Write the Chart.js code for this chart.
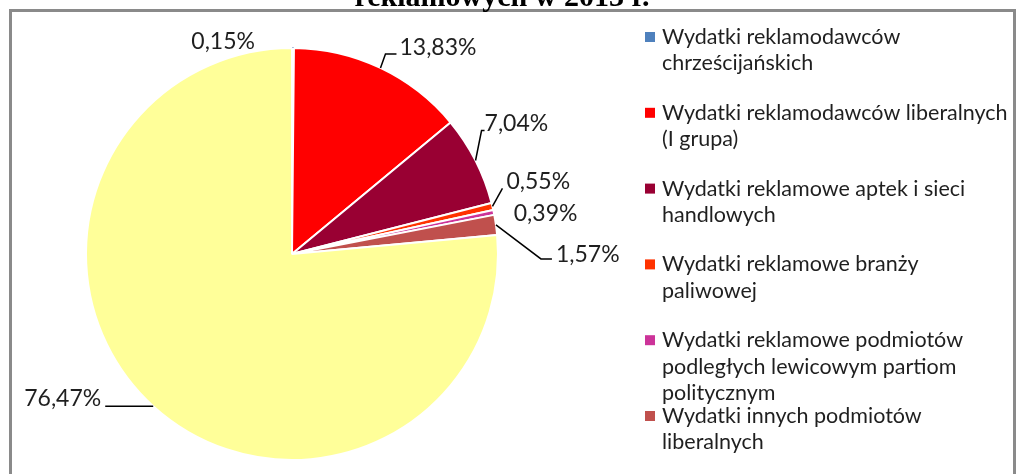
<!DOCTYPE html>
<html lang="pl">
<head>
<meta charset="utf-8">
<title>Wydatki reklamowe 2013</title>
<script src="https://cdn.jsdelivr.net/npm/chart.js@4/dist/chart.umd.min.js"></script>
<style>
  body { margin: 0; background: #fff; }
  #wrap { width: 1016px; height: 474px; position: relative; }
</style>
</head>
<body>
<div id="wrap"><canvas id="pie"></canvas></div>
<script>
const chartTitle = "reklamowych w 2013 r.";

// legend entries, one array of lines per slice (last slice has no legend entry)
const categories = [
  ["Wydatki reklamodawców", "chrześcijańskich"],
  ["Wydatki reklamodawców liberalnych", "(I grupa)"],
  ["Wydatki reklamowe aptek i sieci", "handlowych"],
  ["Wydatki reklamowe branży", "paliwowej"],
  ["Wydatki reklamowe podmiotów", "podległych lewicowym partiom", "politycznym"],
  ["Wydatki innych podmiotów", "liberalnych"]
];
const shares = [0.15, 13.83, 7.04, 0.55, 0.39, 1.57, 76.47];
const sliceColors = ["#4F81BD", "#FF0000", "#990033", "#FF3300", "#CC3399", "#C0504D", "#FFFF99"];

// where each percentage goes, relative to the middle of the slice's rim
const labelSpots = [
  { dx: -38, dy: -6, align: "right", leader: null },
  { dx: 19, dy: -20, align: "left", leader: [[5, -14], [16, -14]] },
  { dx: 9, dy: -37, align: "left", leader: [[6, -30], [9, -30]] },
  { dx: 14, dy: -25, align: "left", leader: [[10, -18]] },
  { dx: 20, dy: 1, align: "left", leader: null },
  { dx: 60, dy: 30, align: "left", leader: [[45, 34], [56, 34]] },
  { dx: -52, dy: -8, align: "right", leader: [[-48, 0]] }
];

const textColor = "#1f1f1f";
const labelFont = '23px Lato';
const legendFont = '21.5px Lato';

function formatShare(v) {
  return v.toFixed(2).replace(".", ",") + "%";
}

const decorations = {
  id: "decorations",
  beforeDraw(chart) {
    const ctx = chart.ctx;
    ctx.save();
    // outer frame
    ctx.strokeStyle = "#8a8a8a";
    ctx.lineWidth = 3;
    ctx.strokeRect(10.5, 10.5, 1004, 480);
    // title, partly above the canvas top
    ctx.fillStyle = "#000";
    ctx.font = 'bold 30px "Liberation Serif"';
    ctx.textAlign = "center";
    ctx.textBaseline = "alphabetic";
    ctx.fillText(chartTitle, 502, 6);
    ctx.restore();
  },
  afterDatasetsDraw(chart) {
    const ctx = chart.ctx;
    const meta = chart.getDatasetMeta(0);
    ctx.save();

    // percentage labels with leader lines
    ctx.font = labelFont;
    ctx.fillStyle = textColor;
    ctx.strokeStyle = "#000";
    ctx.lineWidth = 1.5;
    ctx.textBaseline = "middle";
    meta.data.forEach((arc, i) => {
      const p = arc.getProps(["x", "y", "startAngle", "endAngle", "outerRadius"], true);
      const mid = (p.startAngle + p.endAngle) / 2;
      const ax = p.x + Math.cos(mid) * p.outerRadius;
      const ay = p.y + Math.sin(mid) * p.outerRadius;
      const spot = labelSpots[i];
      if (spot.leader) {
        ctx.beginPath();
        ctx.moveTo(ax, ay);
        spot.leader.forEach(([lx, ly]) => ctx.lineTo(ax + lx, ay + ly));
        ctx.stroke();
      }
      ctx.textAlign = spot.align;
      ctx.fillText(formatShare(shares[i]), ax + spot.dx, ay + spot.dy);
    });

    // legend on the right
    ctx.font = legendFont;
    ctx.textAlign = "left";
    categories.forEach((lines, i) => {
      const y0 = 37 + i * 75.8;
      ctx.fillStyle = sliceColors[i];
      ctx.fillRect(645, y0 - 5, 10, 10);
      ctx.fillStyle = textColor;
      lines.forEach((line, k) => ctx.fillText(line, 662, y0 + k * 26.5));
    });
    ctx.restore();
  }
};

new Chart(document.getElementById("pie"), {
  type: "pie",
  data: {
    labels: categories.map(c => c.join(" ")),
    datasets: [{
      data: shares,
      backgroundColor: sliceColors,
      // the thin first slice keeps its own colour as outline so it stays visible
      borderColor: sliceColors.map((c, i) => i === 0 ? c : "#fff"),
      borderWidth: 2
    }]
  },
  options: {
    responsive: true,
    maintainAspectRatio: false,
    animation: false,
    events: [],
    layout: { padding: { left: 85, right: 517, top: 47, bottom: 13 } },
    plugins: {
      legend: { display: false },
      tooltip: { enabled: false },
      title: { display: false }
    }
  },
  plugins: [decorations]
});
</script>
</body>
</html>
